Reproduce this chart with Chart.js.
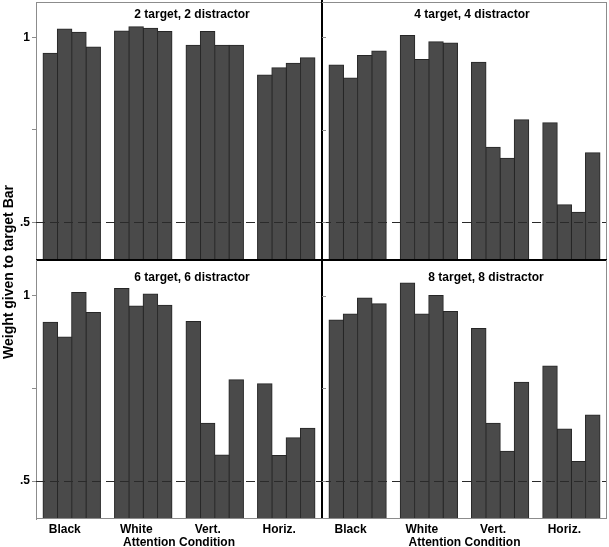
<!DOCTYPE html>
<html>
<head>
<meta charset="utf-8">
<script src="https://cdn.jsdelivr.net/npm/chart.js@4.4.1/dist/chart.umd.min.js"></script>
<style>
  html, body { margin: 0; padding: 0; background: #fff; }
  #wrap { position: relative; width: 609px; height: 547px; overflow: hidden; }
  #wrap canvas { position: absolute; left: 0; top: 0; }
  #y-title {
    position: absolute; left: 8px; top: 272px;
    transform: translate(-50%, -50%) rotate(-90deg);
    font: bold 14px 'Liberation Sans', Arial, sans-serif;
    white-space: nowrap; color: #000;
  }
</style>
</head>
<body>
<div id="wrap">
  <canvas id="panel-tl" width="609" height="547"></canvas>
  <canvas id="panel-tr" width="609" height="547"></canvas>
  <canvas id="panel-bl" width="609" height="547"></canvas>
  <canvas id="panel-br" width="609" height="547"></canvas>
  <div id="y-title">Weight given to target Bar</div>
</div>
<script>
const categories = ['Black', 'White', 'Vert.', 'Horiz.'];
const yTicks = [0.5, 0.75, 1];
const yTickLabels = ['.5', '', '1'];
const xTitle = 'Attention Condition';
const panelTitles = ['2 target, 2 distractor', '4 target, 4 distractor', '6 target, 6 distractor', '8 target, 8 distractor'];

// one row per attention condition, four bars in each
const set2 = [
  [0.957, 1.023, 1.014, 0.974],
  [1.017, 1.029, 1.025, 1.016],
  [0.979, 1.016, 0.979, 0.979],
  [0.898, 0.918, 0.930, 0.945],
];
const set4 = [
  [0.925, 0.890, 0.951, 0.963],
  [1.005, 0.940, 0.988, 0.985],
  [0.933, 0.703, 0.673, 0.777],
  [0.769, 0.547, 0.527, 0.688],
];
const set6 = [
  [0.928, 0.888, 1.008, 0.954],
  [1.019, 0.972, 1.004, 0.974],
  [0.930, 0.656, 0.570, 0.773],
  [0.762, 0.569, 0.617, 0.642],
];
const set8 = [
  [0.934, 0.950, 0.993, 0.978],
  [1.034, 0.950, 1.000, 0.957],
  [0.911, 0.656, 0.580, 0.766],
  [0.810, 0.640, 0.553, 0.678],
];
const chanceLevel = 0.5;

const Y_MIN = 0.398;
const Y_MAX = 1.096;
const FONT = "'Liberation Sans', Arial, sans-serif";
const BAR_FILL = '#4a4a4a';
const BAR_EDGE = '#262626';
const FRAME_GRAY = '#8c8c8c';

const panelPlugin = {
  id: 'panelDecor',
  afterDatasetsDraw(chart, args, opts) {
    const { ctx, chartArea: a, scales } = chart;
    const y = scales.y;
    ctx.save();

    // chance line
    const yc = Math.round(y.getPixelForValue(chanceLevel)) + 0.5;
    ctx.strokeStyle = '#2a2a2a';
    ctx.lineWidth = 1;
    ctx.setLineDash([9, 5]);
    ctx.beginPath();
    ctx.moveTo(a.left, yc);
    ctx.lineTo(a.right, yc);
    ctx.stroke();
    ctx.setLineDash([]);

    // thin frame
    ctx.strokeStyle = FRAME_GRAY;
    ctx.beginPath();
    if (opts.frameTop) { ctx.moveTo(a.left, a.top + 0.5); ctx.lineTo(a.right, a.top + 0.5); }
    if (opts.frameRight) { ctx.moveTo(a.right - 0.5, a.top); ctx.lineTo(a.right - 0.5, a.bottom); }
    if (opts.frameBottom) { ctx.moveTo(a.left, a.bottom - 0.5); ctx.lineTo(a.right, a.bottom - 0.5); }
    ctx.stroke();

    // inner ticks for panels without labelled axis
    if (opts.innerTicks) {
      ctx.beginPath();
      yTicks.forEach((v) => {
        const py = Math.round(y.getPixelForValue(v)) + 0.5;
        ctx.moveTo(a.left, py);
        ctx.lineTo(a.left + 4, py);
      });
      ctx.stroke();
    }

    // heavy dividers
    ctx.strokeStyle = '#000';
    ctx.lineWidth = 2;
    ctx.beginPath();
    if (opts.divBottom) { ctx.moveTo(opts.divBottom[0], a.bottom); ctx.lineTo(opts.divBottom[1], a.bottom); }
    if (opts.divRight) { ctx.moveTo(a.right, opts.divRight[0]); ctx.lineTo(a.right, opts.divRight[1]); }
    ctx.stroke();

    // panel title
    ctx.fillStyle = '#000';
    ctx.font = `bold 12px ${FONT}`;
    ctx.textAlign = 'center';
    ctx.textBaseline = 'middle';
    ctx.fillText(opts.title, opts.titleX, opts.titleY);
    ctx.restore();
  },
};

function makePanel(id, groups, cfg) {
  const datasets = [0, 1, 2, 3].map((i) => ({
    data: groups.map((g) => g[i]),
    backgroundColor: BAR_FILL,
    borderColor: BAR_EDGE,
    borderWidth: 1,
    inflateAmount: 0.6,
    categoryPercentage: 0.8,
    barPercentage: 1.0,
    base: Y_MIN,
  }));

  return new Chart(document.getElementById(id), {
    type: 'bar',
    data: { labels: categories, datasets },
    plugins: [panelPlugin],
    options: {
      responsive: false,
      animation: false,
      devicePixelRatio: 1,
      layout: { padding: cfg.padding },
      plugins: {
        legend: { display: false },
        tooltip: { enabled: false },
        panelDecor: cfg.decor,
      },
      scales: {
        x: {
          display: cfg.showX,
          grid: { display: false, drawTicks: false },
          border: { display: false },
          afterFit: (s) => {
            if (cfg.showX) s.height = 28;
            s.paddingLeft = 0;
            s.paddingRight = 0;
          },
          ticks: {
            color: '#000',
            font: { family: FONT, size: 12, weight: 'bold' },
            labelOffset: -7,
            padding: 3,
            maxRotation: 0,
          },
          title: {
            display: true,
            text: xTitle,
            color: '#000',
            font: { family: FONT, size: 12, weight: 'bold', lineHeight: 0.8 },
            padding: 0,
          },
        },
        y: {
          display: cfg.showY,
          min: Y_MIN,
          max: Y_MAX,
          afterBuildTicks: (s) => { s.ticks = yTicks.map((v) => ({ value: v })); },
          afterFit: (s) => {
            if (cfg.showY) s.width = 36;
            s.paddingTop = 0;
            s.paddingBottom = 0;
          },
          grid: { drawOnChartArea: false, tickLength: 4, color: FRAME_GRAY },
          border: { color: FRAME_GRAY, width: 1 },
          ticks: {
            color: '#000',
            padding: 2,
            font: { family: FONT, size: 12, weight: 'bold' },
            callback: (v) => {
              const idx = yTicks.indexOf(v);
              return idx >= 0 ? yTickLabels[idx] : '';
            },
          },
        },
      },
    },
  });
}

makePanel('panel-tl', set2, {
  showX: false, showY: true,
  padding: { left: 0, top: 2, right: 287, bottom: 287 },
  decor: { title: panelTitles[0], titleX: 192, titleY: 15, frameTop: true, divBottom: [36, 322], divRight: [0, 519] },
});
makePanel('panel-tr', set4, {
  showX: false, showY: false,
  padding: { left: 322, top: 2, right: 2, bottom: 287 },
  decor: { title: panelTitles[1], titleX: 472, titleY: 15, frameTop: true, frameRight: true, innerTicks: true, divBottom: [322, 607] },
});
makePanel('panel-bl', set6, {
  showX: true, showY: true,
  padding: { left: 0, top: 260, right: 287, bottom: 0 },
  decor: { title: panelTitles[2], titleX: 192, titleY: 278, frameBottom: true },
});
makePanel('panel-br', set8, {
  showX: true, showY: false,
  padding: { left: 322, top: 260, right: 2, bottom: 0 },
  decor: { title: panelTitles[3], titleX: 486, titleY: 278, frameRight: true, frameBottom: true, innerTicks: true },
});
</script>
</body>
</html>
